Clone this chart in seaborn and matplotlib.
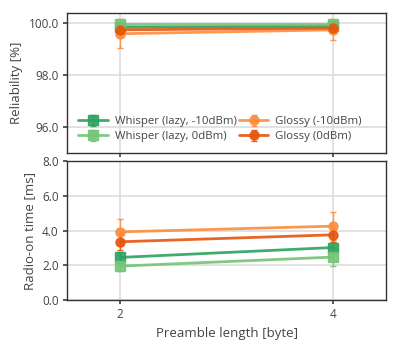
import numpy as np
import pandas as pd
import seaborn as sns
import matplotlib
matplotlib.use('Agg')
import matplotlib.pyplot as plt

# Data

preamble = [2, 4]
labels = ['Whisper (lazy, -10dBm)', 'Whisper (lazy, 0dBm)', 'Glossy (-10dBm)', 'Glossy (0dBm)']
markers = ['s', 's', 'o', 'o']
colors = ['#2ca25f', '#74c476', '#fd8d3c', '#e6550d']

reliability = [[99.85, 99.90], [99.98, 99.98], [99.60, 99.75], [99.75, 99.82]]
reliability_err = [[0.05, 0.05], [0.02, 0.02], [0.55, 0.40], [0.10, 0.10]]

radio_on = [[2.45, 3.02], [1.95, 2.47], [3.92, 4.25], [3.35, 3.75]]
radio_on_err = [[0.30, 0.30], [0.30, 0.50], [0.72, 0.80], [0.45, 0.40]]

# Style

sns.set_theme(style='whitegrid')
plt.rcParams['font.family'] = ['Open Sans', 'DejaVu Sans']
plt.rcParams['axes.edgecolor'] = '#333333'
plt.rcParams['axes.linewidth'] = 1.0
plt.rcParams['grid.color'] = '#dddddd'
plt.rcParams['grid.linewidth'] = 1.2
plt.rcParams['xtick.bottom'] = True
plt.rcParams['ytick.left'] = True
plt.rcParams['xtick.major.size'] = 3
plt.rcParams['ytick.major.size'] = 3

fig = plt.figure(figsize=(3.99, 3.51), dpi=100)
ax1 = fig.add_axes([67/399, 1 - 153/351, 319/399, 140/351])
ax2 = fig.add_axes([67/399, 1 - 300/351, 319/399, 139/351])

for i in range(4):
    for ax, vals, errs in [(ax1, reliability, reliability_err), (ax2, radio_on, radio_on_err)]:
        ax.errorbar(preamble, vals[i], yerr=errs[i], color=colors[i], marker=markers[i],
                    markersize=6.5, linewidth=2, elinewidth=1, capsize=2, alpha=0.9,
                    label=labels[i])

for ax in [ax1, ax2]:
    ax.set_xlim(1.5, 4.5)
    ax.set_xticks(preamble)
    ax.tick_params(labelsize=8.5, colors='#444444', pad=3)
    ax.yaxis.set_major_formatter(matplotlib.ticker.FormatStrFormatter('%.1f'))

ax1.set_ylim(95, 100.4)
ax1.set_yticks([96, 98, 100])
ax1.set_xticklabels([])
ax1.set_ylabel('Reliability [%]', fontsize=9.5, color='#444444')

ax2.set_ylim(0, 8)
ax2.set_yticks([0, 2, 4, 6, 8])
ax2.set_ylabel('Radio-on time [ms]', fontsize=9.5, color='#444444')
ax2.set_xlabel('Preamble length [byte]', fontsize=9.5, color='#444444')

leg = ax1.legend(ncol=2, loc='lower left', bbox_to_anchor=(0.01, 0.02), frameon=False,
                 fontsize=8.2, columnspacing=0.2, handlelength=2.6, handletextpad=0.6,
                 borderaxespad=0.3, labelspacing=0.35)
for t in leg.get_texts():
    t.set_color('#444444')

fig.savefig('out.png', dpi=100)
